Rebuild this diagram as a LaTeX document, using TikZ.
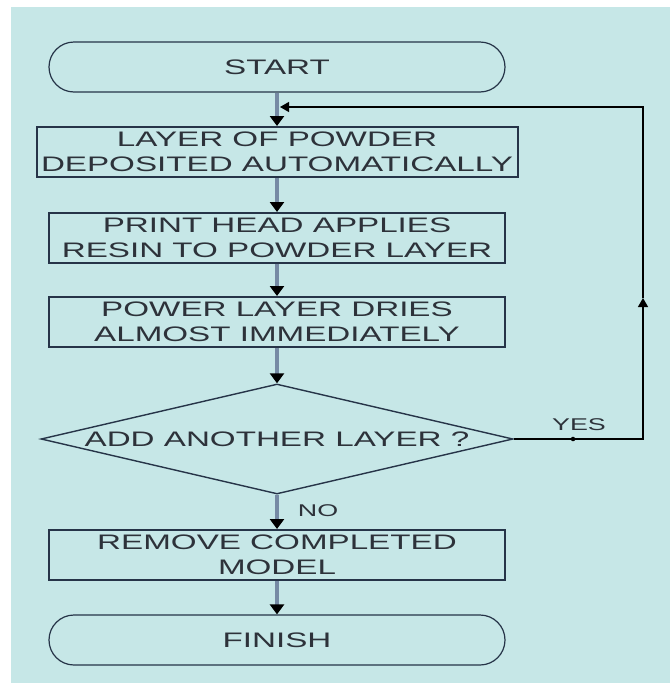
\documentclass[tikz,border=0pt]{standalone}
\usepackage{fontspec}
\setmainfont{Liberation Sans}[FakeStretch=1.58]
\usepackage{tikz}
\usetikzlibrary{shapes, arrows.meta}
\definecolor{back}{RGB}{198, 231, 231}
\definecolor{edge}{RGB}{38, 52, 72}
\definecolor{flow}{RGB}{118, 138, 164}
\definecolor{ink}{RGB}{45, 50, 58}
\newcommand*{\bh}{50}

\begin{document}
\begin{tikzpicture}[
   x=1pt, y=-1pt,
   font=\fontsize{21}{25}\selectfont,
   procrec/.style={rectangle, draw=edge, line width=2, text=ink, align=center,
                   inner sep=1, minimum height=\bh, minimum width=456},
   termrec/.style={rectangle, rounded corners=25, draw=edge, line width=1.2, text=ink,
                   inner sep=1, minimum height=\bh, minimum width=456},
   decdia/.style={diamond, draw=edge, line width=1.4, text=ink, aspect=4.3,
                  inner sep=0, minimum width=472, minimum height=110},
   flowarr/.style={-{Triangle[width=14, length=10, color=black]}, draw=flow, line width=4},
   looptip/.style={-{Triangle[width=10, length=9]}, draw=black, line width=1.2},
   tag/.style={text=ink, font=\fontsize{17}{20}\selectfont, inner sep=0}
  ]

  % Column centre
  \pgfmathsetmacro{\cx}{277}

  \useasboundingbox (0, 0) rectangle (670, 686);
  \fill[back] (11, 7) rectangle (670, 683);

  \node (start) at (\cx, 67) [termrec] {START};

  \node (lay) at (\cx, 152) [procrec, minimum width=481] {LAYER OF POWDER\\DEPOSITED AUTOMATICALLY};

  \node (res) at (\cx, 238) [procrec] {PRINT HEAD APPLIES\\RESIN TO POWDER LAYER};

  \node (dry) at (\cx, 322) [procrec] {POWER LAYER DRIES\\ALMOST IMMEDIATELY};

  \node (ask) at (\cx, 439) [decdia] {ADD ANOTHER LAYER ?};

  \node (rem) at (\cx, 555) [procrec] {REMOVE COMPLETED\\MODEL};

  \node (fin) at (\cx, 640) [termrec] {FINISH};

  \foreach \B/\E in {start/lay, lay/res, res/dry, dry/ask, ask/rem, rem/fin} {
    \draw[flowarr] (\B) -- (\E);
  }

  % Loop back
  \coordinate (yc) at (643, 439);
  \coordinate (up) at (643, 298);
  \coordinate (tc) at (643, 107);
  \coordinate (jn) at (\cx + 3, 107);

  \draw[looptip] (ask.east) -- (yc) -- (up);
  \draw[looptip] (up) -- (tc) -- (jn);
  \node (ydot) at (573, 439) [circle, fill=black, inner sep=1.6] {};

  \node (yes) at (579, 425) [tag] {YES};
  \node (no) at (318, 511) [tag] {NO};

\end{tikzpicture}
\end{document}
